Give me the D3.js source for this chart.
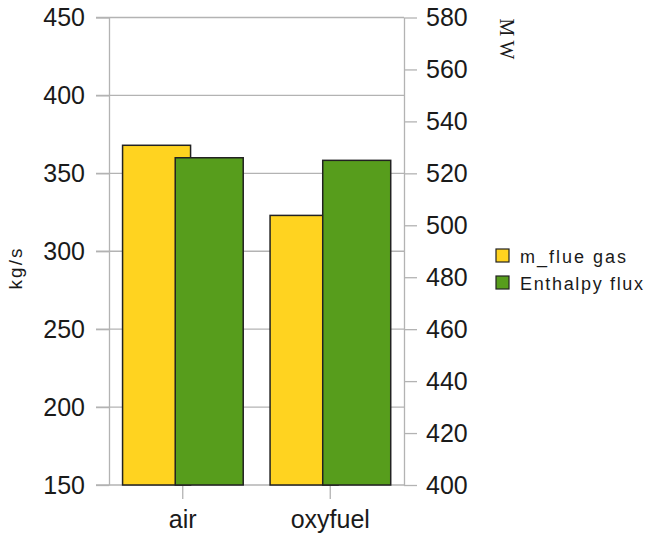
<!DOCTYPE html>
<html>
<head>
<meta charset="utf-8">
<script src="https://cdn.jsdelivr.net/npm/d3@7"></script>
<style>
  html, body { margin: 0; padding: 0; background: #fff; }
  svg { display: block; }
  text { font-family: "Liberation Sans", Arial, sans-serif; fill: #1a1a1a; }
</style>
</head>
<body>
<svg id="chart" width="646" height="535"></svg>
<script>
// ---- data ----
const categories = ["air", "oxyfuel"];
const seriesNames = ["m_flue gas", "Enthalpy flux"];
const massFlow = [368, 323];        // kg/s (left axis)
const enthalpyFlux = [526, 525];    // MW (right axis)
const leftTicks = [150, 200, 250, 300, 350, 400, 450];
const rightTicks = [400, 420, 440, 460, 480, 500, 520, 540, 560, 580];
const colors = ["#ffd320", "#579d1c"];

const svg = d3.select("#chart");
const plot = { left: 109, right: 404, top: 17.5, bottom: 485 };
const gridColor = "#b3b3b3";

const x = d3.scaleBand().domain(categories).range([plot.left, plot.right]).padding(0);
const yL = d3.scaleLinear().domain([150, 450]).range([plot.bottom, plot.top]);
const yR = d3.scaleLinear().domain([400, 580]).range([plot.bottom, plot.top]);
// series offset within a band (bars overlap a little)
const barW = x.bandwidth() * 0.461;
const offset = d3.scaleOrdinal().domain([0, 1]).range([-x.bandwidth() * 0.408, -x.bandwidth() * 0.051]);

// gridlines (left axis)
svg.append("g")
  .selectAll("line").data(leftTicks).join("line")
  .attr("x1", plot.left - 13).attr("x2", plot.right)
  .attr("y1", d => yL(d)).attr("y2", d => yL(d))
  .attr("stroke", gridColor).attr("stroke-width", 1.3);

// left axis
const leftAxis = svg.append("g").attr("transform", `translate(${plot.left},0)`)
  .call(d3.axisLeft(yL).tickValues(leftTicks).tickSize(13).tickSizeOuter(0).tickPadding(11));
leftAxis.select(".domain").attr("stroke", gridColor).attr("stroke-width", 1.3);
leftAxis.selectAll(".tick line").attr("stroke", gridColor).attr("stroke-width", 1.3);
leftAxis.selectAll(".tick text").attr("font-size", 25).attr("font-family", "Liberation Sans, Arial, sans-serif").attr("fill", "#1a1a1a");

// right axis
const rightAxis = svg.append("g").attr("transform", `translate(${plot.right},0)`)
  .call(d3.axisRight(yR).tickValues(rightTicks).tickSize(13).tickSizeOuter(0).tickPadding(9));
rightAxis.select(".domain").attr("stroke", gridColor).attr("stroke-width", 1.3);
rightAxis.selectAll(".tick line").attr("stroke", gridColor).attr("stroke-width", 1.3);
rightAxis.selectAll(".tick text").attr("font-size", 25).attr("font-family", "Liberation Sans, Arial, sans-serif").attr("fill", "#1a1a1a");

// bottom axis
const bottomAxis = svg.append("g").attr("transform", `translate(0,${plot.bottom})`)
  .call(d3.axisBottom(x).tickSize(14).tickSizeOuter(0).tickPadding(11));
bottomAxis.select(".domain").remove();
bottomAxis.selectAll(".tick line").attr("stroke", gridColor).attr("stroke-width", 1.3);
bottomAxis.selectAll(".tick text").attr("font-size", 25).attr("font-family", "Liberation Sans, Arial, sans-serif").attr("fill", "#1a1a1a");

// bars
const bars = svg.append("g");
categories.forEach((c, i) => {
  bars.append("rect")
    .attr("x", x(c) + x.bandwidth() / 2 + offset(0)).attr("width", barW)
    .attr("y", yL(massFlow[i])).attr("height", yL(150) - yL(massFlow[i]))
    .attr("fill", colors[0]).attr("stroke", "#222").attr("stroke-width", 1.5);
  bars.append("rect")
    .attr("x", x(c) + x.bandwidth() / 2 + offset(1)).attr("width", barW)
    .attr("y", yR(enthalpyFlux[i])).attr("height", yR(400) - yR(enthalpyFlux[i]))
    .attr("fill", colors[1]).attr("stroke", "#222").attr("stroke-width", 1.5);
});

// axis titles
svg.append("text")
  .attr("transform", "translate(22,269) rotate(-90)")
  .attr("text-anchor", "middle")
  .attr("font-size", 19)
  .attr("textLength", 41).attr("lengthAdjust", "spacing")
  .text("kg/s");
svg.append("text")
  .attr("transform", "translate(500,39) rotate(90)")
  .attr("text-anchor", "middle")
  .attr("font-size", 20)
  .attr("textLength", 41).attr("lengthAdjust", "spacing")
  .style("font-family", "'Liberation Serif', 'DejaVu Serif', serif")
  .text("MW");

// legend
const legendWidths = [106, 123];
const legend = svg.append("g").attr("transform", "translate(496,249)");
seriesNames.forEach((name, i) => {
  const g = legend.append("g").attr("transform", `translate(0,${i * 27})`);
  g.append("rect").attr("width", 13).attr("height", 13)
    .attr("fill", colors[i]).attr("stroke", "#222").attr("stroke-width", 1.2);
  g.append("text").attr("x", 24).attr("y", 14)
    .attr("font-size", 18)
    .attr("textLength", legendWidths[i]).attr("lengthAdjust", "spacing")
    .text(name);
});
</script>
</body>
</html>
